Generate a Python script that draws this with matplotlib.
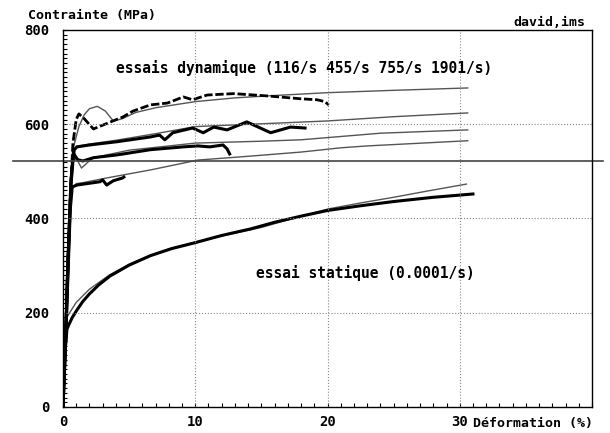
import numpy as np
import matplotlib
matplotlib.use('Agg')
import matplotlib.pyplot as plt
from matplotlib.ticker import MultipleLocator

plt.rcParams['font.family'] = ['DejaVu Sans Mono']
plt.rcParams['font.weight'] = 'bold'

# dynamic tests (thick measured curves), strain in %, stress in MPa
eps_a = [0, 0.2, 0.4, 0.55, 0.75, 1.0, 1.2, 1.6, 2.3, 3.0, 3.6, 4.5, 5.3, 6.6, 7.9, 9.1, 9.8,
         10.9, 12.9, 15.5, 18.0, 19.2, 19.8, 20.1]
sig_a = [0, 150, 330, 450, 560, 610, 622, 612, 590, 598, 605, 615, 628, 641, 645, 658, 652,
         662, 665, 660, 654, 652, 648, 641]

eps_b = [0, 0.2, 0.4, 0.6, 0.8, 1.06, 2.0, 4.1, 6.6, 7.3, 7.7, 8.3, 9.8, 10.6, 11.4, 12.4,
         13.9, 15.7, 17.2, 18.3]
sig_b = [0, 150, 330, 480, 545, 552, 556, 563, 573, 577, 567, 582, 592, 582, 594, 588,
         605, 582, 594, 592]

eps_c = [0, 0.2, 0.4, 0.6, 0.8, 1.1, 1.5, 2.3, 4.1, 6.6, 9.1, 10.2, 11.1, 12.1, 12.4, 12.6]
sig_c = [0, 140, 320, 470, 538, 525, 522, 529, 535, 546, 552, 554, 552, 556, 548, 537]

eps_d = [0, 0.2, 0.4, 0.55, 0.7, 1.06, 2.3, 2.8, 3.0, 3.3, 3.8, 4.5, 4.6]
sig_d = [0, 140, 300, 420, 467, 471, 476, 478, 482, 471, 480, 486, 488]

# model curves (thin lines)
fit_eps_a = [0, 0.3, 0.6, 0.8, 1.2, 1.6, 2.0, 2.6, 3.2, 3.8, 4.5, 5.5, 7.0, 10.0, 13.0, 16.0,
             20.0, 25.0, 30.6]
fit_sig_a = [0, 300, 480, 552, 595, 620, 633, 638, 628, 607, 612, 625, 635, 648, 656, 661,
             667, 672, 677]

fit_eps_b = [0, 0.3, 0.6, 1.0, 2.0, 4.0, 7.0, 10.0, 15.0, 20.0, 25.0, 30.6]
fit_sig_b = [0, 300, 500, 553, 558, 566, 580, 595, 601, 607, 616, 624]

fit_eps_c = [0, 0.3, 0.7, 1.0, 1.4, 1.9, 2.3, 5.0, 10.0, 15.0, 18.0, 21.0, 24.0, 30.6]
fit_sig_c = [0, 300, 520, 528, 507, 520, 529, 545, 560, 564, 567, 574, 581, 588]

fit_eps_d = [0, 0.3, 0.6, 1.0, 1.5, 3.3, 6.6, 10.2, 14.0, 18.0, 21.0, 23.0, 30.6]
fit_sig_d = [0, 300, 460, 474, 476, 486, 503, 524, 532, 541, 550, 554, 565]

# static test
eps_s = [0, 0.1, 0.3, 0.4, 0.7, 1.06, 1.5, 2.0, 2.7, 3.56, 5.0, 6.6, 8.2, 9.9, 12.0, 14.2,
         16.0, 18.0, 20.0, 22.5, 25.0, 28.0, 31.0]
sig_s = [0, 100, 165, 172, 190, 206, 224, 240, 259, 278, 301, 321, 336, 348, 364, 378,
         392, 405, 417, 427, 436, 445, 452]

fit_eps_s = [0, 0.05, 0.2, 0.5, 1.0, 2.0, 3.5, 5.0, 6.6, 8.2, 10.0, 12.5, 15.0, 17.5, 20.0,
             22.5, 25.0, 27.5, 30.5]
fit_sig_s = [0, 120, 185, 200, 222, 250, 280, 303, 322, 337, 350, 366, 381, 401, 420,
             433, 445, 458, 473]

ref_stress = 522

fig = plt.figure(figsize=(6.1, 4.33), dpi=100)
ax = fig.add_axes([63/610, 1 - 407/433, (592 - 63)/610, (407 - 30)/433])

thin = dict(color='#555555', lw=1.0)
ax.plot(fit_eps_a, fit_sig_a, **thin)
ax.plot(fit_eps_b, fit_sig_b, **thin)
ax.plot(fit_eps_c, fit_sig_c, **thin)
ax.plot(fit_eps_d, fit_sig_d, **thin)
ax.plot(fit_eps_s, fit_sig_s, **thin)

ax.plot(eps_a, sig_a, color='black', lw=2.0, ls=(0, (3, 1)))
ax.plot(eps_b, sig_b, color='black', lw=2.2)
ax.plot(eps_c, sig_c, color='black', lw=2.2)
ax.plot(eps_d, sig_d, color='black', lw=2.2)
ax.plot(eps_s, sig_s, color='black', lw=2.2)

ax.axhline(ref_stress, xmin=-0.095, xmax=1.02, color='#444444', lw=1.2, clip_on=False)

ax.set_xlim(0, 40)
ax.set_ylim(0, 800)
ax.set_xticks([0, 10, 20, 30])
ax.set_yticks([0, 200, 400, 600, 800])
ax.xaxis.set_minor_locator(MultipleLocator(1))
ax.yaxis.set_minor_locator(MultipleLocator(10))
ax.tick_params(which='both', direction='in', length=3, width=0.8, labelsize=10)
ax.tick_params(axis='y', pad=10)
ax.tick_params(axis='x', pad=6)
for s in ax.spines.values():
    s.set_linewidth(1.0)

for v in [10, 20, 30]:
    ax.axvline(v, color='#888888', lw=0.8, ls=':')
for v in [200, 400, 600]:
    ax.axhline(v, color='#888888', lw=0.8, ls=':')

fig.text(28/610, 1 - 15/433, 'Contrainte (MPa)', fontsize=9.5, va='center', ha='left')
fig.text(585/610, 1 - 22/433, 'david,ims', fontsize=9.5, va='center', ha='right')
fig.text(593/610, 1 - 423/433, 'Déformation (%)', fontsize=9.5, va='center', ha='right')
ax.text(4.0, 719, 'essais dynamique (116/s 455/s 755/s 1901/s)', fontsize=10.5,
        va='center', ha='left')
ax.text(14.6, 285, 'essai statique (0.0001/s)', fontsize=10.5, va='center', ha='left')

fig.savefig('out.png', dpi=100)
